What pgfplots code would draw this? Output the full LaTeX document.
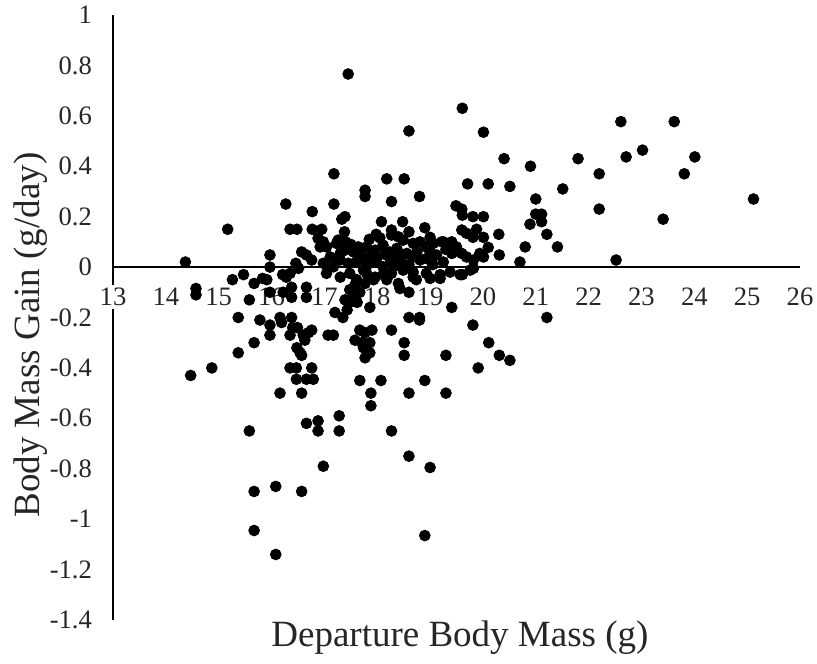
\documentclass[border=0pt]{standalone}
\usepackage{pgfplots}
\pgfplotsset{compat=1.18}
\usepackage{fontspec}
\setmainfont{Liberation Serif}
\begin{document}
\begin{tikzpicture}
\path[use as bounding box] (-56.5pt,-21.5pt) rectangle (352pt,310pt);
\begin{axis}[
  scale only axis,
  width=343.5pt, height=302.5pt,
  xmin=13, xmax=26, ymin=-1.4, ymax=1,
  axis x line=middle, axis y line=left,
  axis line style={-, line width=1.1pt, black},
  hide obscured x ticks=false, hide obscured y ticks=false,
  axis on top,
  major tick length=0pt,
  xtick={13,14,15,16,17,18,19,20,21,22,23,24,25,26},
  xticklabels={13,14,15,16,17,18,19,20,21,22,23,24,25,26},
  ytick={-1.4,-1.2,-1,-0.8,-0.6,-0.4,-0.2,0,0.2,0.4,0.6,0.8,1},
  yticklabels={-1.4,-1.2,-1,-0.8,-0.6,-0.4,-0.2,0,0.2,0.4,0.6,0.8,1},
  ticklabel style={font=\fontsize{13.3pt}{15pt}\selectfont, text=black!85},
  xticklabel style={anchor=north, yshift=-8.8pt, fill=white, inner sep=1.5pt},
  yticklabel style={anchor=east, xshift=-7pt},
  xlabel={Departure Body Mass (g)},
  ylabel={Body Mass Gain (g/day)},
  label style={font=\fontsize{18.5pt}{22pt}\selectfont, text=black!85},
  xlabel style={at={(axis description cs:0.505,-0.030)}, anchor=center},
  ylabel style={at={(axis description cs:-0.1200,0.471)}, anchor=center, rotate=0},
  clip=false,
]
\addplot[only marks, mark=*, mark size=2.7pt, black] table[row sep=\\] {
x y\\
14.37 0.02\\ 15.17 0.15\\ 17.45 0.766\\ 17.18 0.37\\ 16.27 0.25\\ 17.18 0.25\\
16.77 0.22\\ 17.33 0.19\\ 17.39 0.20\\ 16.35 0.15\\ 16.48 0.15\\ 16.77 0.15\\
16.95 0.15\\ 17.38 0.14\\ 15.97 0.048\\ 15.97 0.0\\ 19.61 0.63\\ 18.60 0.54\\
20.01 0.535\\ 20.40 0.43\\ 20.90 0.40\\ 21.80 0.43\\ 18.18 0.35\\ 18.51 0.35\\
19.71 0.33\\ 20.10 0.33\\ 20.51 0.32\\ 21.51 0.31\\ 17.77 0.305\\ 17.77 0.28\\
18.27 0.26\\ 18.80 0.28\\ 21.00 0.27\\ 19.49 0.243\\ 19.60 0.23\\ 19.61 0.206\\
19.81 0.20\\ 20.01 0.20\\ 21.00 0.21\\ 21.11 0.21\\ 20.89 0.17\\ 21.11 0.18\\
21.21 0.13\\ 20.30 0.13\\ 20.80 0.08\\ 21.41 0.08\\ 20.31 0.048\\ 20.70 0.02\\
18.08 0.18\\ 18.48 0.18\\ 18.60 0.14\\ 18.90 0.156\\ 19.00 0.118\\ 18.27 0.147\\
18.27 0.127\\ 17.98 0.13\\ 18.05 0.116\\ 19.60 0.147\\ 19.69 0.134\\ 19.81 0.118\\
19.88 0.15\\ 20.01 0.118\\ 20.10 0.078\\ 19.22 0.10\\ 19.41 0.10\\ 19.50 0.08\\
19.41 0.054\\ 19.60 0.054\\ 19.69 0.04\\ 19.82 0.028\\ 20.01 0.04\\ 16.88 0.114\\
16.98 0.10\\ 16.92 0.08\\ 16.57 0.06\\ 16.66 0.048\\ 16.76 0.028\\ 16.46 0.015\\
16.51 -0.005\\ 16.35 -0.025\\ 17.04 0.08\\ 17.11 0.04\\ 17.23 0.094\\ 17.30 0.054\\
17.42 0.08\\ 17.55 0.06\\ 17.64 0.08\\ 17.70 0.048\\ 17.77 0.028\\ 16.98 0.015\\
17.04 -0.025\\ 17.17 0.001\\ 17.30 -0.04\\ 17.48 -0.025\\ 17.61 -0.05\\ 17.74 -0.012\\
17.48 -0.09\\ 17.55 -0.12\\ 17.48 -0.14\\ 18.49 0.107\\ 18.68 0.094\\ 18.81 0.10\\
18.93 0.08\\ 19.06 0.094\\ 19.25 0.10\\ 17.80 0.08\\ 17.96 0.067\\ 18.11 0.087\\
18.24 0.06\\ 18.37 0.074\\ 19.38 0.094\\ 19.44 0.06\\ 19.94 0.054\\ 18.56 0.054\\
18.68 0.04\\ 18.81 0.028\\ 18.93 0.034\\ 19.12 0.048\\ 19.25 0.02\\ 17.74 0.028\\
17.86 0.015\\ 17.99 0.02\\ 18.11 0.001\\ 18.24 0.015\\ 18.37 0.008\\ 18.46 0.02\\
17.80 -0.025\\ 17.96 -0.04\\ 18.11 -0.03\\ 18.27 -0.025\\ 18.49 -0.012\\ 18.68 -0.02\\
18.93 -0.025\\ 19.38 -0.02\\ 19.57 -0.03\\ 19.76 -0.012\\ 17.93 -0.05\\ 18.18 -0.05\\
17.77 -0.065\\ 18.74 -0.05\\ 19.19 -0.045\\ 17.40 0.10\\ 17.50 0.09\\ 17.25 0.03\\
17.45 0.015\\ 17.60 0.02\\ 17.35 0.11\\ 17.26 0.107\\ 17.39 0.067\\ 17.30 0.028\\
17.90 0.05\\ 18.00 0.04\\ 18.15 0.05\\ 18.30 0.04\\ 18.45 0.05\\ 18.60 0.01\\
18.75 0.06\\ 19.00 0.06\\ 19.05 0.01\\ 19.30 0.07\\ 17.85 0.11\\ 18.40 0.12\\
22.20 0.37\\ 22.20 0.23\\ 22.52 0.028\\ 22.61 0.577\\ 22.71 0.437\\ 23.02 0.464\\
23.41 0.19\\ 23.62 0.577\\ 23.81 0.37\\ 24.01 0.437\\ 25.12 0.27\\
15.26 -0.05\\ 15.47 -0.03\\ 14.57 -0.085\\ 14.57 -0.11\\ 15.67 -0.065\\ 15.83 -0.045\\
15.91 -0.05\\ 15.58 -0.13\\ 15.97 -0.10\\ 16.21 -0.03\\ 16.28 -0.04\\ 16.22 -0.10\\
16.38 -0.12\\ 16.38 -0.08\\ 16.66 -0.08\\ 16.66 -0.12\\ 15.37 -0.20\\ 15.78 -0.21\\
15.97 -0.23\\ 15.97 -0.27\\ 16.16 -0.20\\ 16.19 -0.22\\ 16.38 -0.20\\ 16.40 -0.24\\
16.35 -0.27\\ 16.49 -0.24\\ 16.60 -0.27\\ 16.63 -0.29\\ 16.76 -0.25\\ 16.70 -0.26\\
16.48 -0.32\\ 16.54 -0.34\\ 16.57 -0.35\\ 17.07 -0.27\\ 17.17 -0.27\\ 15.67 -0.30\\
15.37 -0.34\\ 14.87 -0.40\\ 14.47 -0.43\\ 16.35 -0.40\\ 16.47 -0.40\\ 16.76 -0.40\\
16.47 -0.445\\ 16.66 -0.445\\ 16.79 -0.445\\ 16.16 -0.50\\ 16.57 -0.50\\ 15.58 -0.65\\
16.66 -0.62\\ 16.88 -0.61\\ 16.88 -0.65\\ 17.28 -0.59\\ 17.28 -0.65\\ 16.98 -0.79\\
15.67 -0.89\\ 16.08 -0.87\\ 16.57 -0.89\\ 15.67 -1.045\\ 16.08 -1.14\\ 17.58 -0.07\\
17.67 -0.10\\ 17.62 -0.14\\ 17.39 -0.13\\ 17.43 -0.17\\ 17.35 -0.20\\ 17.20 -0.18\\
17.86 -0.16\\ 17.67 -0.25\\ 17.77 -0.26\\ 17.90 -0.25\\ 17.58 -0.29\\ 17.71 -0.30\\
17.86 -0.30\\ 17.74 -0.32\\ 17.80 -0.33\\ 17.77 -0.36\\ 17.86 -0.34\\ 18.27 -0.25\\
18.51 -0.30\\ 18.51 -0.35\\ 18.60 -0.20\\ 18.80 -0.20\\ 18.80 -0.21\\ 18.60 -0.10\\
18.40 -0.065\\ 18.43 -0.085\\ 19.30 -0.35\\ 19.41 -0.16\\ 19.81 -0.23\\ 20.11 -0.30\\
20.31 -0.35\\ 20.51 -0.37\\ 19.91 -0.40\\ 21.21 -0.20\\ 17.67 -0.45\\ 18.07 -0.45\\
17.88 -0.50\\ 17.88 -0.55\\ 18.60 -0.50\\ 18.90 -0.45\\ 19.30 -0.50\\ 18.27 -0.65\\
18.60 -0.75\\ 19.00 -0.795\\ 18.90 -1.065\\ 18.68 -0.04\\ 19.00 -0.045\\ 19.19 -0.03\\
19.61 -0.03\\ 19.82 -0.005\\
};
\end{axis}
\end{tikzpicture}
\end{document}
